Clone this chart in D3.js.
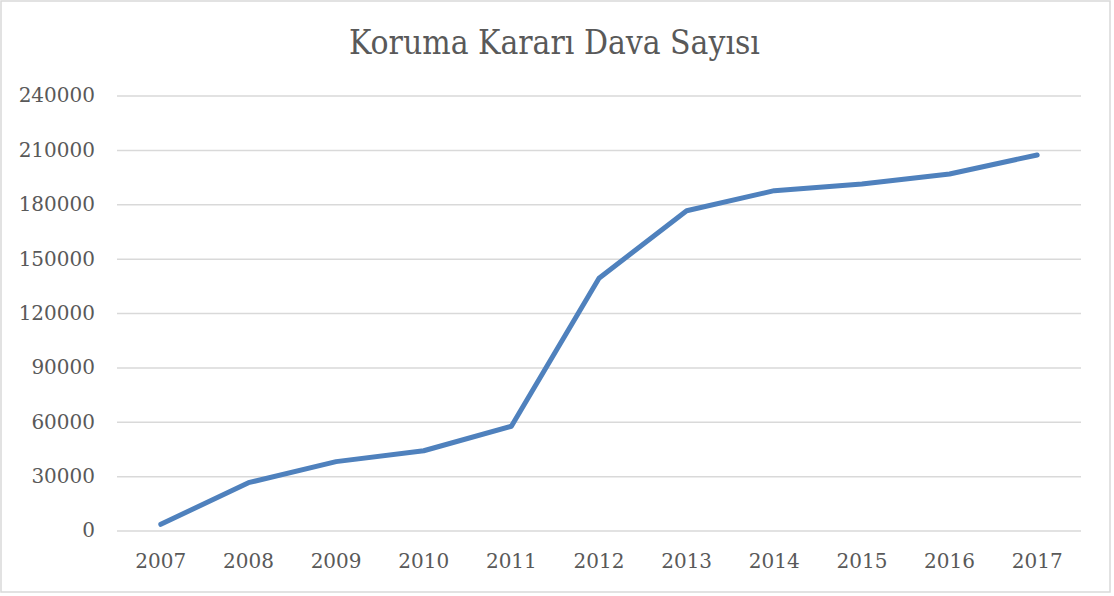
<!DOCTYPE html>
<html>
<head>
<meta charset="utf-8">
<script src="https://cdn.jsdelivr.net/npm/d3@7"></script>
<style>
  html, body { margin: 0; padding: 0; background: #fff; }
  svg { display: block; }
</style>
</head>
<body>
<svg id="chart" width="1114" height="596"></svg>
<script>
const title = "Koruma Kararı Dava Sayısı";
const years = ["2007","2008","2009","2010","2011","2012","2013","2014","2015","2016","2017"];
const values = [3400, 26400, 38000, 44000, 57500, 139200, 176400, 187500, 191200, 196700, 207200];
const yTicks = [0, 30000, 60000, 90000, 120000, 150000, 180000, 210000, 240000];

const margin = {left: 117, right: 1081, top: 95.5, bottom: 530.5};
const font = "'DejaVu Serif', serif";
const titleFont = "'DejaVu Serif Condensed', 'DejaVu Serif', serif";
const textColor = "#595959";

const svg = d3.select("#chart");

svg.append("rect")
  .attr("x", 1).attr("y", 1).attr("width", 1109).attr("height", 591)
  .attr("fill", "#fff").attr("stroke", "#d9d9d9").attr("stroke-width", 1.5);

const x = d3.scaleBand().domain(years).range([margin.left, margin.right]).padding(0);
const y = d3.scaleLinear().domain([0, 240000]).range([margin.bottom, margin.top]);

const yAxis = d3.axisLeft(y).tickValues(yTicks).tickSize(-(margin.right - margin.left)).tickPadding(22).tickFormat(d3.format("d"));
const gy = svg.append("g").attr("transform", `translate(${margin.left},0)`).call(yAxis);
gy.select(".domain").remove();
gy.selectAll(".tick line").attr("stroke", "#d9d9d9").attr("stroke-width", 1.5);
gy.selectAll(".tick text").attr("fill", textColor).style("font-family", font).style("font-size", "20px");

const xAxis = d3.axisBottom(x).tickSize(0).tickPadding(23);
const gx = svg.append("g").attr("transform", `translate(0,${margin.bottom})`).call(xAxis);
gx.select(".domain").remove();
gx.selectAll(".tick text").attr("fill", textColor).style("font-family", font).style("font-size", "20px");

const line = d3.line()
  .x((d, i) => x(years[i]) + x.bandwidth() / 2)
  .y(d => y(d));
svg.append("path")
  .datum(values)
  .attr("d", line)
  .attr("fill", "none")
  .attr("stroke", "#4f81bd")
  .attr("stroke-width", 5)
  .attr("stroke-linecap", "round")
  .attr("stroke-linejoin", "round");

const t = svg.append("text")
  .attr("x", 554.5).attr("y", 54)
  .attr("text-anchor", "middle")
  .attr("fill", textColor)
  .style("font-family", titleFont)
  .style("font-size", "30px")
  .text(title);
const len = t.node().getComputedTextLength();
t.style("font-size", (30 * 411 / len) + "px");
</script>
</body>
</html>
